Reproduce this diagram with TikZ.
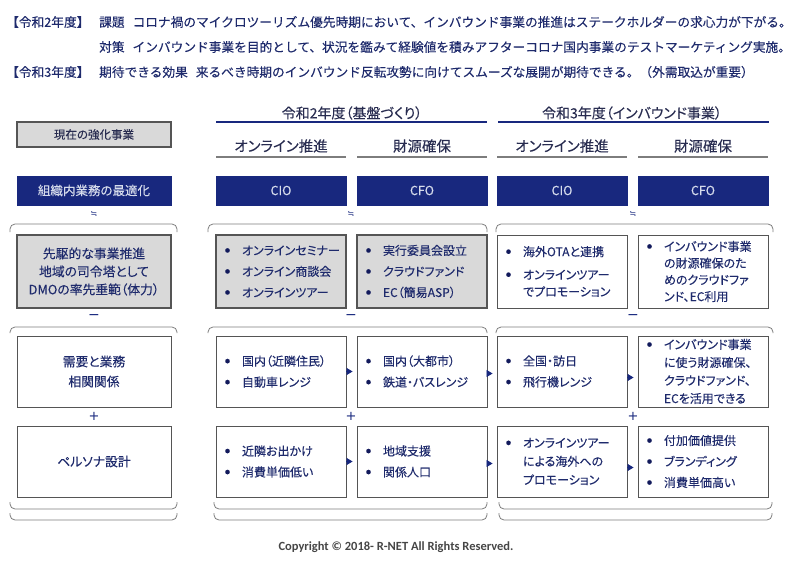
\documentclass[tikz,border=0pt]{standalone}
\usepackage{fontspec}
\setmainfont{Noto Sans CJK JP}[RawFeature=+palt,FakeBold=0.15]
\newfontfamily\jpfull{Noto Sans CJK JP}[FakeBold=0.15]
\newfontfamily\copyfont{Carlito}
\newfontfamily\symfont{DejaVu Sans}
\usetikzlibrary{arrows.meta,positioning}
\definecolor{navy}{RGB}{24,40,126}
\definecolor{ink}{RGB}{30,42,108}
\definecolor{dot}{RGB}{18,26,92}
\definecolor{boxgray}{RGB}{217,217,217}
\definecolor{edge}{RGB}{85,85,85}
\definecolor{rule}{RGB}{125,125,125}
\definecolor{head}{RGB}{40,44,80}
\definecolor{pale}{RGB}{214,220,236}
\definecolor{copyc}{RGB}{70,70,70}
\newcommand{\bl}{\makebox[20pt][l]{\hspace{3pt}\textcolor{dot}{\raisebox{2.6pt}{\fontsize{5}{5}\selectfont ●}}}}
\newcommand{\ind}{\hspace*{20pt}}

\begin{document}
\begin{tikzpicture}[x=1pt,y=-1pt,
    top/.style={anchor=west,inner sep=0pt,text=ink,font=\jpfull\fontsize{12.7}{14}\selectfont},
    head/.style={text=head,inner sep=0pt,font=\fontsize{14}{16}\selectfont},
    navybox/.style={draw=navy,fill=navy,text=pale,minimum height=29pt,inner sep=0pt,font=\fontsize{12.5}{14}\selectfont},
    graybox/.style={draw=edge,fill=boxgray,line width=1.1pt},
    plainbox/.style={draw=edge,fill=white,line width=0.9pt},
    list/.style={text width=118pt,align=left,inner xsep=6pt,inner ysep=0pt,text=ink,font=\fontsize{12}{21}\selectfont},
    wrap/.style={list,font=\fontsize{12}{#1}\selectfont},
    lead/.style={text width=150pt,align=center,inner xsep=2pt,inner ysep=0pt,text=ink,minimum width=154pt,font=\fontsize{12.8}{#1}\selectfont},
    sign/.style={text=navy,inner sep=0pt},
    brace/.style={draw=rule,line width=0.8pt,rounded corners=5pt},
    flow/.style={draw=navy,line width=0.6pt,-{Triangle[length=6pt,width=7pt]},shorten >=4pt}]
\useasboundingbox (0,0) rectangle (800,562);

% issue / plan / effect
\node[top] (y2tag) at (6,22) {【令和2年度】};
\node[top] (issue) at (99,22) {課題\hspace{8pt}コロナ禍のマイクロツーリズム優先時期において、インバウンド事業の推進はステークホルダーの求心力が下がる。};
\node[top] (plan) at (99,47) {対策\hspace{8pt}インバウンド事業を目的として、状況を鑑みて経験値を積みアフターコロナ国内事業のテストマーケティング実施。};
\node[top] (y3tag) at (6,72) {【令和3年度】};
\node[top] (effect) at (99,72) {期待できる効果\hspace{8pt}来るべき時期のインバウンド反転攻勢に向けてスムーズな展開が期待できる。（外需取込が重要）};

% year headers
\node[head] (year2) at (352,113) {令和2年度（基盤づくり）};
\draw[navy,line width=1.2pt] (216,122) -- (487,122);
\node[head] (year3) at (632,113) {令和3年度（インバウンド事業）};
\draw[navy,line width=1.2pt] (498,122) -- (769,122);

\node[graybox,minimum width=154pt,minimum height=25pt,inner sep=0pt,text=head,font=\fontsize{11.5}{13}\selectfont] (now) at (94,134.5) {現在の強化事業};

\foreach \n/\x/\t in {s1/281/オンライン推進,s2/422/財源確保,s3/562/オンライン推進,s4/703/財源確保}{
    \node[head,font=\fontsize{14.5}{16}\selectfont] (\n) at (\x,146) {\t};
    \draw[rule,line width=1.6pt] (\x-65,157) -- (\x+65,157);
}

\node[navybox,minimum width=154pt] (d0) at (94,190.5) {組織内業務の最適化};
\foreach \n/\x/\t in {d1/281/CIO,d2/422/CFO,d3/562/CIO,d4/703/CFO}
    \node[navybox,minimum width=130pt] (\n) at (\x,190.5) {\t};

% signs between the rows
\foreach \x [count=\k] in {94,351,633}{
    \node[sign,font=\symfont\fontsize{8}{8}\selectfont] (eq\k) at (\x,214) {≒};
    \node[sign,font=\symfont\fontsize{14}{14}\selectfont] (minus\k) at (\x,317) {−};
    \node[sign,font=\symfont\fontsize{13}{13}\selectfont] (plus\k) at (\x,416) {+};
}

% braces
\foreach \a/\b in {10/177,208/487,496/773}{
    \draw[brace] (\a,232) -- (\a,224) -- (\b,224) -- (\b,232);
    \draw[brace] (\a,333) -- (\a,327) -- (\b,327) -- (\b,333);
}
\foreach \a/\b in {10/177,214/487,499/772}{
    \draw[brace] (\a,502) -- (\a,509) -- (\b,509) -- (\b,502);
    \draw[brace] (\a,513) -- (\a,520) -- (\b,520) -- (\b,513);
}

% row 1
\node[graybox,lead=18,minimum height=73pt] (r1c0) at (94,271.5) {先駆的な事業推進\\地域の司令塔として\\DMOの率先垂範（体力）};
\node[graybox,list,minimum height=73pt] (r1c1) at (281,271.5) {\bl オンラインセミナー\\\bl オンライン商談会\\\bl オンラインツアー};
\node[graybox,list,minimum height=73pt] (r1c2) at (422,271.5) {\bl 実行委員会設立\\\bl クラウドファンド\\\bl EC（簡易ASP）};
\node[plainbox,wrap=17,minimum height=73pt] (r1c3) at (562,271.5) {\bl 海外OTAと連携\\[6pt]\bl オンラインツアー\\\ind でプロモーション};
\node[plainbox,wrap=16.7,minimum height=73pt] (r1c4) at (703,271.5) {\bl インバウンド事業\\\ind の財源確保のた\\\ind めのクラウドファ\\\ind ンド、EC利用};

% row 2
\node[plainbox,lead=20,minimum height=71pt] (r2c0) at (94,371.5) {需要と業務\\相関関係};
\node[plainbox,list,minimum height=71pt] (r2c1) at (281,371.5) {\bl 国内（近隣住民）\\\bl 自動車レンジ};
\node[plainbox,list,minimum height=71pt] (r2c2) at (422,371.5) {\bl 国内（大都市）\\\bl 鉄道・バスレンジ};
\node[plainbox,list,minimum height=71pt] (r2c3) at (562,371.5) {\bl 全国・訪日\\\bl 飛行機レンジ};
\node[plainbox,wrap=18,minimum height=71pt] (r2c4) at (703,371.5) {\bl インバウンド事業\\\ind に使う財源確保、\\\ind クラウドファンド、\\\ind ECを活用できる};

% row 3
\node[plainbox,lead=20,minimum height=71pt] (r3c0) at (94,461.5) {ペルソナ設計};
\node[plainbox,list,minimum height=71pt] (r3c1) at (281,461.5) {\bl 近隣お出かけ\\\bl 消費単価低い};
\node[plainbox,list,minimum height=71pt] (r3c2) at (422,461.5) {\bl 地域支援\\\bl 関係人口};
\node[plainbox,wrap=18.5,minimum height=71pt] (r3c3) at (562,461.5) {\bl オンラインツアー\\\ind による海外への\\\ind プロモーション};
\node[plainbox,list,minimum height=71pt] (r3c4) at (703,461.5) {\bl 付加価値提供\\\bl ブランディング\\\bl 消費単価高い};

\foreach \row in {2,3}
    \foreach \p/\q/\s in {1/2/0,2/3/-2,3/4/-6}
        \draw[flow] ([yshift=\s pt]r\row c\p.east) -- ([yshift=\s pt]r\row c\q.west);

\node[text=copyc,font=\copyfont\bfseries\fontsize{12.5}{14}\selectfont] (copy) at (396,547) {Copyright © 2018- R-NET All Rights Reserved.};
\end{tikzpicture}
\end{document}
